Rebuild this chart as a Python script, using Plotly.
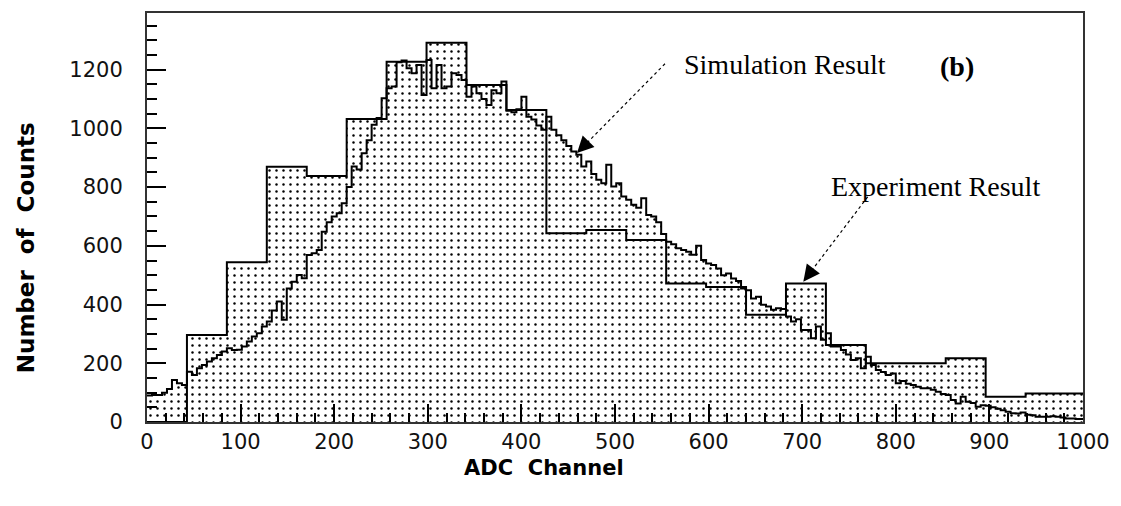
import numpy as np
import plotly.graph_objects as go

# ---------------- data ----------------
# Simulation histogram: 192 bins over 0-1024 ADC channels (first 188 visible)
sim_counts = [
    90, 92, 92, 100, 112, 143, 132, 126, 171, 160,
    183, 194, 206, 217, 228, 240, 251, 245, 246, 257,
    274, 291, 302, 325, 342, 380, 410, 348, 455, 478,
    501, 490, 569, 575, 586, 648, 680, 700, 711, 745,
    800, 870, 860, 915, 960, 1012, 1035, 1103, 1137, 1143,
    1225, 1231, 1205, 1188, 1216, 1114, 1233, 1137, 1216, 1137,
    1143, 1188, 1182, 1165, 1108, 1143, 1120, 1100, 1080, 1130,
    1120, 1160, 1060, 1055, 1065, 1108, 1040, 1030, 1010, 995,
    1040, 995, 977, 960, 940, 921, 910, 870, 887, 845,
    825, 813, 876, 802, 813, 768, 757, 740, 730, 762,
    705, 700, 680, 640, 614, 605, 592, 586, 580, 570,
    600, 552, 540, 535, 523, 500, 506, 489, 480, 455,
    449, 421, 427, 399, 393, 382, 387, 385, 359, 342,
    350, 313, 313, 285, 325, 280, 302, 257, 257, 245,
    230, 211, 217, 183, 222, 194, 177, 170, 160, 165,
    132, 140, 130, 126, 120, 115, 115, 110, 103, 95,
    92, 75, 63, 86, 69, 65, 52, 57, 55, 50,
    45, 40, 35, 30, 29, 32, 25, 23, 18, 18,
    18, 20, 18, 15, 12, 12, 10, 10,
]
sim_bin_width = 1024 / 192

# Experiment histogram: 24 bins over 0-1024 ADC channels
exp_counts = [0, 296, 544, 869, 838, 1032, 1227, 1292, 1148, 1063, 643, 654,
              620, 472, 460, 365, 472, 262, 200, 200, 217, 86, 97, 97]
exp_bin_width = 1024 / 24

x_ticks = [0, 100, 200, 300, 400, 500, 600, 700, 800, 900, 1000]
y_ticks = [0, 200, 400, 600, 800, 1000, 1200]
x_range = [0, 1000]
y_range = [0, 1393]


def step_xy(counts, bw):
    edges = np.minimum(np.arange(len(counts) + 1) * bw, x_range[1])
    return edges, list(counts) + [counts[-1]]


sim_x, sim_y = step_xy(sim_counts, sim_bin_width)
exp_x, exp_y = step_xy(exp_counts, exp_bin_width)

pattern = dict(shape=".", fgcolor="black", bgcolor="white", size=7,
               solidity=0.1, fillmode="replace")

fig = go.Figure()
for xs, ys in [(exp_x, exp_y), (sim_x, sim_y)]:
    fig.add_trace(go.Scatter(x=xs, y=ys, mode="lines",
                             line=dict(color="rgba(0,0,0,0)", width=0, shape="hv"),
                             fill="tozeroy", fillpattern=pattern,
                             fillcolor="white", hoverinfo="skip"))
for xs, ys in [(exp_x, exp_y), (sim_x, sim_y)]:
    fig.add_trace(go.Scatter(x=xs, y=ys, mode="lines",
                             line=dict(color="black", width=2, shape="hv"),
                             hoverinfo="skip"))

tick_font = dict(family="DejaVu Sans", size=21, color="#111")
fig.update_xaxes(range=x_range, tickvals=x_ticks, ticks="inside", ticklen=18,
                 tickwidth=1.5, tickcolor="black", showline=True, linewidth=2,
                 linecolor="#333", mirror=True, showgrid=False, zeroline=False,
                 tickfont=tick_font, ticklabelstandoff=0,
                 minor=dict(dtick=20, ticks="inside", ticklen=9, tickwidth=1.5,
                            tickcolor="black", showgrid=False))
fig.update_yaxes(range=y_range, tickvals=y_ticks, ticks="inside", ticklen=19,
                 tickwidth=1.5, tickcolor="black", showline=True, linewidth=2,
                 linecolor="#333", mirror=True, showgrid=False, zeroline=False,
                 tickfont=tick_font, ticklabelstandoff=18,
                 minor=dict(dtick=50, ticks="inside", ticklen=10, tickwidth=1.5,
                            tickcolor="black", showgrid=False))

serif = dict(family="Liberation Serif", size=28, color="black")
annotations = [
    dict(text="Number  of  Counts", xref="paper", yref="paper", x=-0.1294, y=0.427,
         textangle=-90, showarrow=False, xanchor="center", yanchor="middle",
         font=dict(family="DejaVu Sans", size=23, color="black", weight="bold")),
    dict(text="ADC  Channel", xref="paper", yref="paper", x=0.424, y=-0.112,
         showarrow=False, xanchor="center", yanchor="middle",
         font=dict(family="DejaVu Sans", size=21, color="black", weight="bold")),
    dict(text="Simulation Result", x=572, y=1218, xanchor="left", yanchor="middle",
         showarrow=False, font=serif),
    dict(text="<b>(b)</b>", x=845, y=1212, xanchor="left", yanchor="middle",
         showarrow=False, font=serif),
    dict(text="Experiment Result", x=729, y=803, xanchor="left", yanchor="middle",
         showarrow=False, font=serif),
    # arrowheads
    dict(text="", x=459.4, y=916, ax=10.5, ay=-10.7, showarrow=True, arrowhead=2,
         arrowsize=2.2, arrowwidth=1.5, arrowcolor="black", standoff=0),
    dict(text="", x=701.2, y=478, ax=9.1, ay=-11.9, showarrow=True, arrowhead=2,
         arrowsize=2.2, arrowwidth=1.5, arrowcolor="black", standoff=0),
]
shapes = [
    dict(type="line", x0=553.4, y0=1220, x1=459.4, y1=916, xref="x", yref="y",
         line=dict(color="black", width=1.2, dash="dot")),
    dict(type="line", x0=770, y0=767, x1=701.2, y1=478, xref="x", yref="y",
         line=dict(color="black", width=1.2, dash="dot")),
]

fig.update_layout(width=1121, height=506, margin=dict(l=147, r=38, t=13, b=84),
                  paper_bgcolor="white", plot_bgcolor="white", showlegend=False,
                  annotations=annotations, shapes=shapes)

fig.write_html("out.html")
